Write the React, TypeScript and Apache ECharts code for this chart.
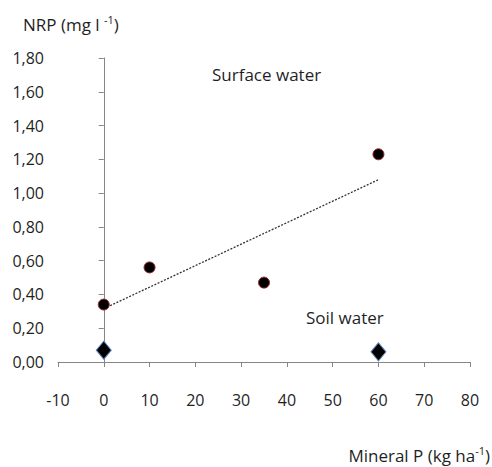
import React, { useEffect, useRef } from "react";
import * as echarts from "echarts";

const surfaceX = [0, 10, 35, 60];
const surfaceY = [0.34, 0.56, 0.47, 1.23];
const soilX = [0, 60];
const soilY = [0.07, 0.06];
const xTicks = [-10, 0, 10, 20, 30, 40, 50, 60, 70, 80];
const yTicks = [0, 0.2, 0.4, 0.6, 0.8, 1.0, 1.2, 1.4, 1.6, 1.8];

function regression(xs: number[], ys: number[]) {
  const n = xs.length;
  const mx = xs.reduce((a, b) => a + b, 0) / n;
  const my = ys.reduce((a, b) => a + b, 0) / n;
  let sxy = 0;
  let sxx = 0;
  for (let i = 0; i < n; i++) {
    sxy += (xs[i] - mx) * (ys[i] - my);
    sxx += (xs[i] - mx) * (xs[i] - mx);
  }
  const slope = sxy / sxx;
  return { slope, intercept: my - slope * mx };
}

const FONT = "'Open Sans', 'Noto Sans', sans-serif";
const TXT = "#1f1f1f";

export default function App() {
  const ref = useRef<HTMLDivElement>(null);
  useEffect(() => {
    if (!ref.current) return;
    const chart = echarts.init(ref.current, undefined, { renderer: "svg" });
    const { slope, intercept } = regression(surfaceX, surfaceY);
    const x0 = Math.min(...surfaceX);
    const x1 = Math.max(...surfaceX);
    const trend = [
      [x0, intercept + slope * x0],
      [x1, intercept + slope * x1],
    ];
    const axisColor = "#868686";
    chart.setOption({
      animation: false,
      backgroundColor: "#ffffff",
      textStyle: { fontFamily: FONT },
      grid: { left: 58, top: 58, width: 412, height: 304, containLabel: false },
      xAxis: {
        type: "value",
        min: xTicks[0],
        max: xTicks[xTicks.length - 1],
        interval: 10,
        axisLine: { show: true, onZero: false, lineStyle: { color: axisColor, width: 1 } },
        axisTick: { show: true, length: 5, lineStyle: { color: axisColor } },
        axisLabel: { color: TXT, fontSize: 16, fontFamily: FONT, margin: 30 },
        splitLine: { show: false },
      },
      yAxis: {
        type: "value",
        min: yTicks[0],
        max: yTicks[yTicks.length - 1],
        interval: 0.2,
        axisLine: { show: true, lineStyle: { color: axisColor, width: 1 } },
        axisTick: { show: true, length: 5, lineStyle: { color: axisColor } },
        axisLabel: {
          color: TXT,
          fontSize: 16,
          fontFamily: FONT,
          margin: 14,
          formatter: (v: number) => v.toFixed(2).replace(".", ","),
        },
        splitLine: { show: false },
      },
      series: [
        {
          type: "line",
          data: trend,
          symbol: "none",
          lineStyle: { color: "#333333", width: 1.3, type: [2, 1.5] },
          z: 1,
        },
        {
          type: "scatter",
          data: surfaceX.map((x, i) => [x, surfaceY[i]]),
          symbol: "circle",
          symbolSize: 11,
          itemStyle: { color: "#000000", borderColor: "#9b2d2d", borderWidth: 1, opacity: 1 },
          z: 3,
        },
        {
          type: "scatter",
          data: soilX.map((x, i) => [x, soilY[i]]),
          symbol: "diamond",
          symbolSize: [15, 18],
          itemStyle: { color: "#000000", borderColor: "#5b7fb5", borderWidth: 1, opacity: 1 },
          z: 3,
        },
      ],
      graphic: [
        {
          type: "text",
          x: 23,
          y: 24,
          style: {
            text: "NRP (mg l {sup|-1})",
            fill: TXT,
            font: `17px ${FONT}`,
            verticalAlign: "middle",
            rich: {
              sup: { fontSize: 11, fill: TXT, padding: [0, 0, 9, 0], fontFamily: FONT },
            },
          },
        },
        {
          type: "text",
          x: 212,
          y: 74,
          style: {
            text: "Surface water",
            fill: TXT,
            font: `17px ${FONT}`,
            verticalAlign: "middle",
          },
        },
        {
          type: "text",
          x: 306,
          y: 317,
          style: {
            text: "Soil water",
            fill: TXT,
            font: `17px ${FONT}`,
            verticalAlign: "middle",
          },
        },
        {
          type: "text",
          x: 490,
          y: 455,
          style: {
            text: "Mineral P (kg ha{sup|-1})",
            fill: TXT,
            font: `17px ${FONT}`,
            align: "right",
            verticalAlign: "middle",
            rich: {
              sup: { fontSize: 11, fill: TXT, padding: [0, 0, 9, 0], fontFamily: FONT },
            },
          },
        },
      ],
    });
    return () => chart.dispose();
  }, []);
  return (
    <div
      ref={ref}
      style={{ position: "fixed", left: 0, top: 0, width: 492, height: 467 }}
    />
  );
}
